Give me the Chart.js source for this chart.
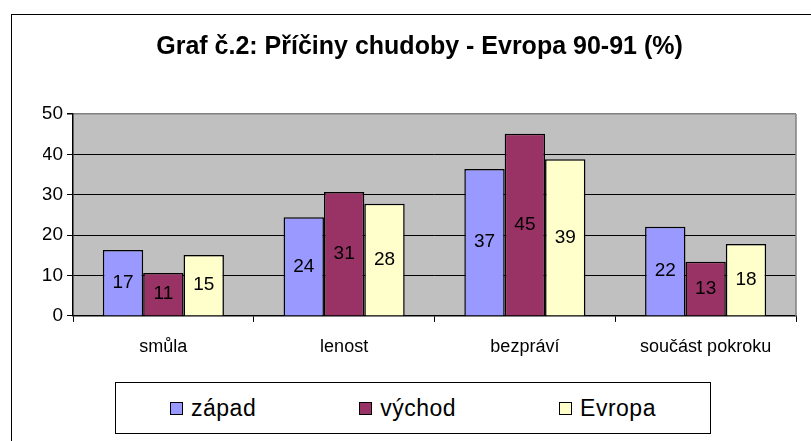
<!DOCTYPE html>
<html>
<head>
<meta charset="utf-8">
<script src="https://cdn.jsdelivr.net/npm/chart.js@4.4.1/dist/chart.umd.min.js"></script>
<style>
  html, body { margin: 0; padding: 0; background: #fff; overflow: hidden; }
  #wrap { position: relative; width: 811px; height: 441px; overflow: hidden; }
  #frame { position: absolute; left: 11px; top: 14px; width: 900px; height: 500px;
           border-left: 1px solid #000; border-top: 1px solid #000; }
  #myChart { position: absolute; left: 0; top: 0; }
  #legend { position: absolute; left: 115px; top: 382px; width: 596px; height: 52px;
            border: 1px solid #000; background: #fff; box-sizing: border-box;
            display: flex; justify-content: center; align-items: center; gap: 103px;
            font-family: "Liberation Sans", Arial, sans-serif; font-size: 23px; }
  .item { display: flex; align-items: center; white-space: nowrap; letter-spacing: 0.5px; }
  .box { width: 11px; height: 11px; border: 1.5px solid #000; margin-right: 8px; }
</style>
</head>
<body>
<div id="wrap">
  <div id="frame"></div>
  <canvas id="myChart" width="811" height="441"></canvas>
  <div id="legend"></div>
</div>
<script>
const ctx = document.getElementById('myChart'); // canvas for the chart

// categories on the x axis
const categories = ['smůla', 'lenost', 'bezpráví', 'součást pokroku'];

// bar heights
const zapad = [16.3, 24.4, 36.4, 22.1];
const vychod = [10.6, 30.7, 45.1, 13.4];
const evropa = [15.1, 27.8, 38.8, 17.8];

// numbers printed inside the bars
const zapadLabels = ['17', '24', '37', '22'];
const vychodLabels = ['11', '31', '45', '13'];
const evropaLabels = ['15', '28', '39', '18'];

// y axis
const yMin = 0;
const yMax = 50;
const yStep = 10;

const FONT = '"Liberation Sans", Arial, sans-serif';

// grey plot background + grey right border
const plotArea = {
  id: 'plotArea',
  beforeDraw(chart) {
    const a = chart.chartArea;
    const c = chart.ctx;
    c.save();
    c.fillStyle = '#c0c0c0';
    c.fillRect(a.left, a.top, a.right - a.left, a.bottom - a.top);
    c.restore();
  },
  beforeDatasetsDraw(chart) {
    const a = chart.chartArea;
    const c = chart.ctx;
    c.save();
    c.strokeStyle = '#808080';
    c.lineWidth = 1.5;
    c.beginPath();
    c.moveTo(a.right, a.top);
    c.lineTo(a.right, a.bottom);
    c.stroke();
    c.restore();
  }
};

// values printed in the middle of every bar
const barLabels = {
  id: 'barLabels',
  afterDatasetsDraw(chart) {
    const c = chart.ctx;
    c.save();
    c.font = '19px ' + FONT;
    c.fillStyle = '#000';
    c.textAlign = 'center';
    c.textBaseline = 'middle';
    chart.data.datasets.forEach((ds, i) => {
      chart.getDatasetMeta(i).data.forEach((bar, j) => {
        c.fillText(ds.labels[j], bar.x, (bar.y + bar.base) / 2);
      });
    });
    c.restore();
  }
};

const myChart = new Chart(ctx, {
  type: 'bar',
  data: {
    labels: categories,
    datasets: [
      { label: 'západ', data: zapad, labels: zapadLabels, backgroundColor: '#9999ff' },
      { label: 'východ', data: vychod, labels: vychodLabels, backgroundColor: '#993366' },
      { label: 'Evropa', data: evropa, labels: evropaLabels, backgroundColor: '#ffffcc' }
    ].map(d => Object.assign(d, {
      borderColor: '#000',
      borderWidth: 1.5,
      categoryPercentage: 0.67,
      barPercentage: 1.0
    }))
  },
  options: {
    responsive: false,
    animation: false,
    layout: { padding: { left: 43, right: 15, top: 0, bottom: 69.5 } },
    plugins: {
      legend: { display: false },
      tooltip: { enabled: false },
      title: {
        display: true,
        text: 'Graf č.2: Příčiny chudoby - Evropa 90-91 (%)',
        color: '#000',
        font: { family: FONT, size: 25, weight: 'bold' },
        padding: { top: 32, bottom: 52 }
      }
    },
    scales: {
      x: {
        grid: { drawOnChartArea: false, drawTicks: true, tickLength: 6, tickColor: '#000' },
        border: { color: '#000', width: 1.5 },
        ticks: { color: '#000', font: { family: FONT, size: 18 }, padding: 14, maxRotation: 0 }
      },
      y: {
        min: yMin,
        max: yMax,
        afterFit(scale) { scale.width = 30; },
        grid: {
          color: c => (c.tick && c.tick.value === yMax ? '#808080' : '#000'),
          lineWidth: c => (c.tick && c.tick.value === yMax ? 1.5 : 1),
          tickLength: 6,
          tickColor: '#000'
        },
        border: { color: '#000', width: 1.5 },
        ticks: { stepSize: yStep, color: '#000', font: { family: FONT, size: 19 }, padding: 4 }
      }
    }
  },
  plugins: [plotArea, barLabels]
});

// legend box built from the datasets
const legendEl = document.getElementById('legend');
myChart.data.datasets.forEach(ds => {
  const item = document.createElement('div');
  item.className = 'item';
  const box = document.createElement('span');
  box.className = 'box';
  box.style.background = ds.backgroundColor;
  const txt = document.createElement('span');
  txt.textContent = ds.label;
  item.appendChild(box);
  item.appendChild(txt);
  legendEl.appendChild(item);
});
</script>
</body>
</html>
